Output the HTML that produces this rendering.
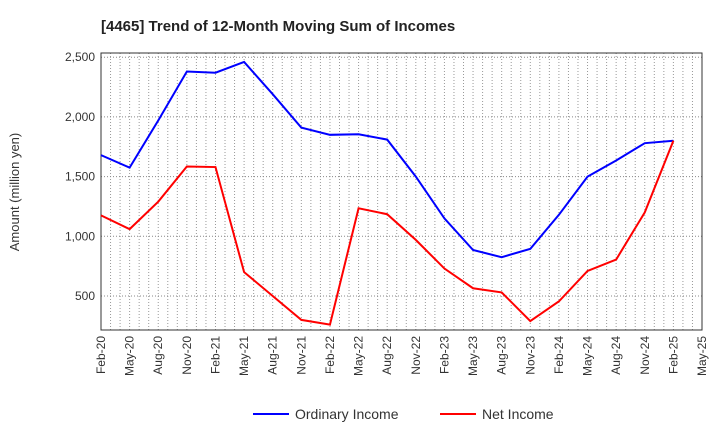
<!DOCTYPE html>
<html><head><meta charset="utf-8"><style>body{margin:0;background:#fff}svg{font-family:"Liberation Sans",sans-serif}</style></head>
<body>
<svg id="c" width="720" height="440"></svg>
<script>
const categories=["Feb-20","May-20","Aug-20","Nov-20","Feb-21","May-21","Aug-21","Nov-21","Feb-22","May-22","Aug-22","Nov-22","Feb-23","May-23","Aug-23","Nov-23","Feb-24","May-24","Aug-24","Nov-24","Feb-25","May-25"];
const ordinaryIncome=[1680,1575,1970,2380,2370,2460,2190,1910,1850,1855,1810,1500,1150,885,825,895,1180,1500,1635,1780,1800];
const netIncome=[1175,1060,1290,1585,1580,700,500,300,260,1235,1185,970,730,565,530,290,455,710,805,1200,1800];
const yTicks=[500,1000,1500,2000,2500];
const yTickLabels=["500","1,000","1,500","2,000","2,500"];
const NS="http://www.w3.org/2000/svg",svg=document.getElementById("c");
const L=101,R=702,T=53,B=330;
const x=i=>L+(R-L)*i/(categories.length-1);
const y=v=>296-(v-500)*(59.7/500);
function mk(t,a,p){const e=document.createElementNS(NS,t);for(const k in a)e.setAttribute(k,a[k]);(p||svg).appendChild(e);return e;}
const title=mk("text",{x:101,y:31,"font-size":15,"font-weight":"bold",fill:"#222"});title.textContent="[4465]  Trend of 12-Month Moving Sum of Incomes";


const grid=mk("g",{});


for(let m=1;m<(categories.length-1)*3;m++){const xx=L+(R-L)*m/((categories.length-1)*3);mk("line",{x1:xx,x2:xx,y1:T,y2:B,stroke:"#999","stroke-dasharray":"1,2","stroke-width":1},grid);}
yTicks.forEach(v=>{mk("line",{x1:L,x2:R,y1:y(v),y2:y(v),stroke:"#888","stroke-dasharray":"1,2","stroke-width":1},grid);});
mk("rect",{x:L,y:T,width:R-L,height:B-T,fill:"none",stroke:"#333","stroke-width":1});
yTicks.forEach((v,i)=>{const t=mk("text",{x:L-6,y:y(v)+4,"font-size":12,"text-anchor":"end",fill:"#333"});t.textContent=yTickLabels[i];

});
categories.forEach((c,i)=>{const t=mk("text",{transform:`translate(${x(i)+4},${B+6}) rotate(-90)`,"font-size":12,"text-anchor":"end",fill:"#333"});t.textContent=c;

});
const yt=mk("text",{transform:"translate(19,192) rotate(-90)","font-size":13,"text-anchor":"middle",fill:"#333"});yt.textContent="Amount (million yen)";


function line(d,col,name){const p=mk("polyline",{points:d.map((v,i)=>x(i)+","+y(v)).join(" "),fill:"none",stroke:col,"stroke-width":2});

}
line(ordinaryIncome,"#0000ff","ordinary-income-line");
line(netIncome,"#ff0000","net-income-line");
function leg(x0,col,txt,name){const g=mk("g",{});


mk("line",{x1:x0,x2:x0+36,y1:414,y2:414,stroke:col,"stroke-width":2},g);const t=mk("text",{x:x0+42,y:419,"font-size":14,fill:"#333"},g);t.textContent=txt;}
leg(253,"#0000ff","Ordinary Income","legend-ordinary-income");
leg(440,"#ff0000","Net Income","legend-net-income");
</script>
</body></html>
